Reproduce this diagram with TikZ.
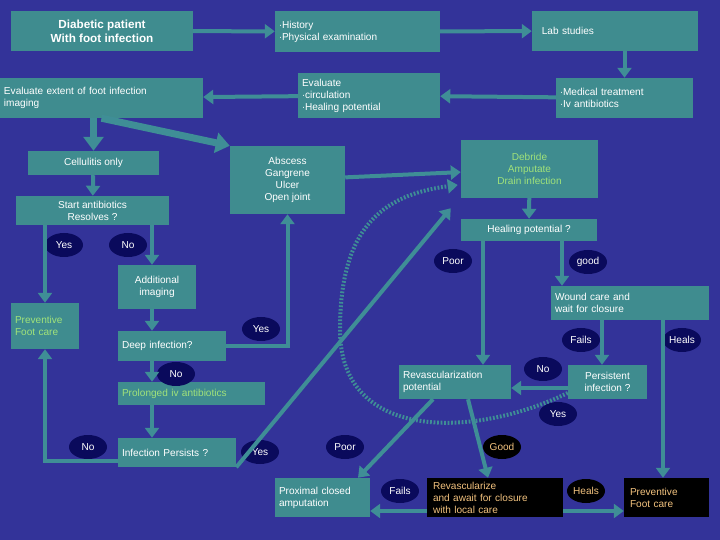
\documentclass[tikz,border=0pt]{standalone}
\usepackage{fontspec}
\setmainfont{Liberation Sans}
\usetikzlibrary{arrows.meta,shapes.geometric}
\definecolor{bgc}{HTML}{333399}
\definecolor{boxc}{HTML}{3F8C8F}
\definecolor{linec}{HTML}{3F8E96}
\definecolor{ovc}{HTML}{0A0A5C}
\definecolor{greenc}{HTML}{A0E27A}
\definecolor{orangec}{HTML}{F2C27E}
\begin{document}
\begin{tikzpicture}[x=0.03cm,y=-0.03cm,font=\fontsize{8.6}{10.2}\selectfont]
  \tikzstyle{box} = [rectangle, fill=boxc, text=white, inner xsep=4*0.03cm, inner ysep=0pt]
  \tikzstyle{dark} = [rectangle, fill=black, text=orangec, inner xsep=6*0.03cm, inner ysep=0pt]
  \tikzstyle{oval} = [ellipse, fill=ovc, text=white, minimum width=38*0.03cm, minimum height=24*0.03cm, inner sep=0pt]
  \tikzstyle{arr} = [draw=linec, line width=4*0.03cm, -{Triangle[width=14*0.03cm,length=10*0.03cm]}]
  \tikzstyle{fat} = [arr, line width=7*0.03cm, -{Triangle[width=20*0.03cm,length=14*0.03cm]}]

  \fill[bgc] (0,0) rectangle (720,540);

  % boxes
  \node[box, minimum width=182*0.03cm, minimum height=40*0.03cm, align=center, font=\fontsize{10}{12}\selectfont\bfseries] (diab) at (102,31) {Diabetic patient\\With foot infection};
  \node[box, text width=157*0.03cm, minimum height=41*0.03cm, align=left] (hist) at (357.5,31.5) {$\cdot$History\\$\cdot$Physical examination};
  \node[box, text width=158*0.03cm, minimum height=40*0.03cm, align=left] (lab) at (615,31) {\hspace{5pt}Lab studies};
  \node[box, text width=195*0.03cm, minimum height=40*0.03cm, align=left] (evext) at (101.5,98) {Evaluate extent of foot infection\\imaging};
  \node[box, text width=134*0.03cm, minimum height=45*0.03cm, align=left] (evcirc) at (369,95.5) {Evaluate\\$\cdot$circulation\\$\cdot$Healing potential};
  \node[box, text width=129*0.03cm, minimum height=40*0.03cm, align=left] (med) at (624.5,98) {$\cdot$Medical treatment\\$\cdot$Iv antibiotics};
  \node[box, minimum width=131*0.03cm, minimum height=24*0.03cm] (cell) at (93.5,163) {Cellulitis only};
  \node[box, minimum width=115*0.03cm, minimum height=68*0.03cm, align=center] (absc) at (287.5,180) {Abscess\\Gangrene\\Ulcer\\Open joint};
  \node[box, text=greenc, minimum width=137*0.03cm, minimum height=58*0.03cm, align=center] (debr) at (529.5,169) {Debride\\Amputate\\Drain infection};
  \node[box, minimum width=153*0.03cm, minimum height=29*0.03cm, align=center] (start) at (92.5,210.5) {Start antibiotics\\Resolves ?};
  \node[box, minimum width=136*0.03cm, minimum height=22*0.03cm] (heal) at (529,230) {Healing potential ?};
  \node[box, minimum width=78*0.03cm, minimum height=44*0.03cm, align=center] (addi) at (157,287) {Additional\\imaging};
  \node[box, text=greenc, text width=60*0.03cm, minimum height=46*0.03cm, align=left] (prevl) at (45,326) {Preventive\\Foot care};
  \node[box, text width=150*0.03cm, minimum height=34*0.03cm, align=left] (wound) at (630,303) {Wound care and\\wait for closure};
  \node[box, text width=100*0.03cm, minimum height=30*0.03cm, align=left] (deep) at (172,346) {Deep infection?};
  \node[box, text=greenc, text width=139*0.03cm, minimum height=23*0.03cm, align=left] (prol) at (191.5,393.5) {Prolonged iv antibiotics};
  \node[box, text width=104*0.03cm, minimum height=34*0.03cm, align=left] (revp) at (455,382) {Revascularization\\potential};
  \node[box, minimum width=79*0.03cm, minimum height=34*0.03cm, align=center] (pers) at (607.5,382) {Persistent\\infection ?};
  \node[box, text width=110*0.03cm, minimum height=29*0.03cm, align=left] (infp) at (177,452.5) {Infection Persists ?};
  \node[box, text width=87*0.03cm, minimum height=39*0.03cm, align=left] (prox) at (322.5,497.5) {Proximal closed\\amputation};
  \node[dark, text width=124*0.03cm, minimum height=39*0.03cm, align=left] (revz) at (495,497.5) {Revascularize\\and await for closure\\with local care};
  \node[dark, text width=73*0.03cm, minimum height=39*0.03cm, align=left] (prevr) at (666.5,497.5) {Preventive\\Foot care};

  % labels
  \node[oval] (yesa) at (64,245) {Yes};
  \node[oval] (noa) at (128,245) {No};
  \node[oval] (poora) at (453,261) {Poor};
  \node[oval] (gooda) at (588,262) {good};
  \node[oval] (yesb) at (261,329) {Yes};
  \node[oval] (failsa) at (581,340) {Fails};
  \node[oval] (healsa) at (682,340) {Heals};
  \node[oval] (nob) at (176,374) {No};
  \node[oval] (noc) at (543,369) {No};
  \node[oval] (yesc) at (558,414) {Yes};
  \node[oval] (nod) at (88,447) {No};
  \node[oval] (yesd) at (260,452) {Yes};
  \node[oval] (poorb) at (345,447) {Poor};
  \node[oval, fill=black, text=orangec] (goodb) at (502,447) {Good};
  \node[oval] (failsb) at (400,491) {Fails};
  \node[oval, fill=black, text=orangec] (healsb) at (586,491) {Heals};

  % connectors
  \draw[arr] (diab) -- (hist);
  \draw[arr] (hist) -- (lab);
  \draw[arr] (lab.south -| med) -- (med);
  \draw[arr] (med) -- (evcirc);
  \draw[arr] (evcirc) -- (evext);
  \draw[fat] (evext.south -| cell) -- (cell);
  \draw[fat] (evext.south) -- (absc.north west);
  \draw[arr] (absc) -- (debr);
  \draw[arr] (debr) -- (heal);
  \draw[arr] (cell) -- (start);
  \draw[arr] (start.south -| prevl) -- (prevl);
  \draw[arr] (start.south -| 152,0) -- (addi.north -| 152,0);
  \draw[arr] (addi.south -| 152,0) -- (deep.north -| 152,0);
  \draw[arr] (deep.east) -| (absc.south);
  \draw[arr] (deep.south -| 152,0) -- (prol.north -| 152,0);
  \draw[arr] (prol.south -| 152,0) -- (infp.north -| 152,0);
  \draw[arr] (infp.west |- 0,461) -| (prevl.south);
  \draw[arr] (infp.south east) -- ([xshift=-10*0.03cm,yshift=-10*0.03cm]debr.south west);
  \draw[arr, dash pattern=on 1.5pt off 1.5pt] (pers.west |- 0,393) .. controls (470,440) and (340,440) .. (340,330)
    .. controls (340,230) and (380,195) .. ([xshift=-3*0.03cm]debr.west |- 0,185);
  \draw[arr] (heal.south -| 483,0) -- (revp.north -| 483,0);
  \draw[arr] (heal.south -| 562,0) -- (wound.north -| 562,0);
  \draw[arr] (wound.south -| 602,0) -- (pers.north -| 602,0);
  \draw[arr] (wound.south -| 663,0) -- (prevr.north -| 663,0);
  \draw[arr] (pers.west |- 0,388) -- (revp.east |- 0,388);
  \draw[arr] (revp.south -| 433,0) -- (prox.north -| 358,0);
  \draw[arr] (revp.south -| 468,0) -- (revz.north -| 488,0);
  \draw[arr] (revz.west |- 0,511) -- (prox.east |- 0,511);
  \draw[arr] (revz.east |- 0,511) -- (prevr.west |- 0,511);
\end{tikzpicture}
\end{document}
